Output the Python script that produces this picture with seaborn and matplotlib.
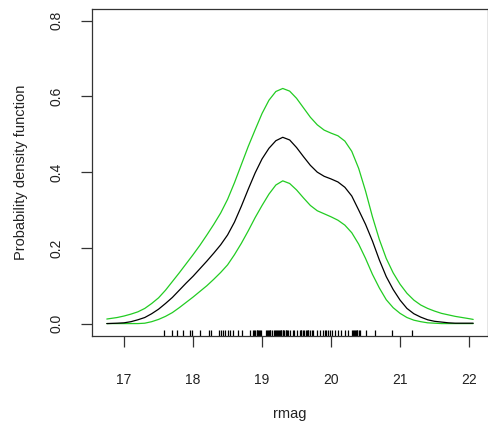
import matplotlib
matplotlib.use("Agg")
import matplotlib.pyplot as plt
import seaborn as sns
import pandas as pd

rmag_grid = [16.75, 16.9,
             17.0, 17.1, 17.2, 17.3, 17.4, 17.5, 17.6, 17.7, 17.8, 17.9,
             18.0, 18.1, 18.2, 18.3, 18.4, 18.5, 18.6, 18.7, 18.8, 18.9,
             19.0, 19.1, 19.2, 19.3, 19.4, 19.5, 19.6, 19.7, 19.8, 19.9,
             20.0, 20.1, 20.2, 20.3, 20.4, 20.5, 20.6, 20.7, 20.8, 20.9,
             21.0, 21.1, 21.2, 21.3, 21.4, 21.5, 21.6, 21.7, 21.8, 21.9,
             22.0, 22.06]

density = [0.000, 0.001,
           0.002, 0.005, 0.010, 0.016, 0.026, 0.038, 0.053, 0.069, 0.088, 0.107,
           0.125, 0.145, 0.165, 0.186, 0.208, 0.234, 0.268, 0.310, 0.355, 0.398,
           0.435, 0.463, 0.483, 0.492, 0.485, 0.465, 0.441, 0.418, 0.400, 0.389,
           0.382, 0.374, 0.360, 0.337, 0.300, 0.262, 0.218, 0.168, 0.124, 0.090,
           0.062, 0.040, 0.026, 0.017, 0.010, 0.006, 0.004, 0.002, 0.001, 0.001,
           0.001, 0.001]

upper_band = [0.012, 0.016,
              0.020, 0.025, 0.031, 0.040, 0.053, 0.068, 0.088, 0.111, 0.134, 0.158,
              0.182, 0.207, 0.234, 0.262, 0.292, 0.328, 0.372, 0.420, 0.468, 0.512,
              0.555, 0.590, 0.613, 0.621, 0.614, 0.595, 0.570, 0.545, 0.525, 0.511,
              0.503, 0.496, 0.482, 0.455, 0.410, 0.350, 0.282, 0.222, 0.172, 0.134,
              0.104, 0.080, 0.062, 0.049, 0.040, 0.033, 0.027, 0.023, 0.019, 0.016,
              0.013, 0.011]

lower_band = [0.000, 0.000,
              0.000, 0.000, 0.000, 0.001, 0.005, 0.011, 0.019, 0.029, 0.042, 0.056,
              0.070, 0.085, 0.100, 0.117, 0.135, 0.155, 0.182, 0.212, 0.245, 0.280,
              0.312, 0.342, 0.366, 0.377, 0.370, 0.353, 0.332, 0.312, 0.298, 0.290,
              0.282, 0.273, 0.260, 0.240, 0.210, 0.172, 0.130, 0.094, 0.063, 0.042,
              0.027, 0.016, 0.009, 0.005, 0.002, 0.001, 0.000, 0.000, 0.000, 0.000,
              0.000, 0.000]

rug_values = [17.58, 17.69, 17.77, 17.86, 17.96, 17.99, 18.10, 18.23, 18.26, 18.38,
              18.40, 18.43, 18.47, 18.50, 18.54, 18.58, 18.65, 18.71, 18.82, 18.87,
              18.89, 18.90, 18.92, 18.93, 18.94, 18.96, 18.97, 18.98, 19.06, 19.07,
              19.08, 19.10, 19.11, 19.12, 19.14, 19.18, 19.19, 19.20, 19.22, 19.23,
              19.24, 19.26, 19.27, 19.28, 19.30, 19.31, 19.32, 19.34, 19.35, 19.36,
              19.38, 19.40, 19.45, 19.47, 19.50, 19.55, 19.56, 19.57, 19.59, 19.61,
              19.63, 19.65, 19.66, 19.67, 19.69, 19.72, 19.74, 19.79, 19.84, 19.88,
              19.91, 19.93, 19.96, 19.98, 20.01, 20.05, 20.10, 20.15, 20.20, 20.25,
              20.30, 20.32, 20.33, 20.34, 20.36, 20.37, 20.38, 20.40, 20.42, 20.51,
              20.63, 20.89, 21.18]

x_ticks = [17, 18, 19, 20, 21, 22]
y_ticks = [0.0, 0.2, 0.4, 0.6, 0.8]
y_tick_labels = ["0.0", "0.2", "0.4", "0.6", "0.8"]

sns.set_style("white")
plt.rcParams["font.family"] = ["Liberation Sans", "DejaVu Sans"]

fig = plt.figure(figsize=(4.89, 4.29), dpi=100)
ax = fig.add_axes([0.1888, 0.2175, 0.8085, 0.7625])

df = pd.DataFrame({"rmag": rmag_grid, "density": density,
                   "upper": upper_band, "lower": lower_band})

green = "#22cc22"
sns.lineplot(data=df, x="rmag", y="upper", ax=ax, color=green, linewidth=0.9)
sns.lineplot(data=df, x="rmag", y="lower", ax=ax, color=green, linewidth=0.9)
sns.lineplot(data=df, x="rmag", y="density", ax=ax, color="black", linewidth=0.9)
sns.rugplot(x=rug_values, ax=ax, height=0.016, color="black", linewidth=0.9)

ax.set_xlim(16.54, 22.27)
ax.set_ylim(-0.032, 0.832)
ax.set_xticks(x_ticks)
ax.set_xticklabels([str(t) for t in x_ticks])
ax.set_yticks(y_ticks)
ax.set_yticklabels(y_tick_labels, rotation=90, va="center")

for s in ax.spines.values():
    s.set_visible(True)
    s.set_color("#333333")
    s.set_linewidth(0.9)

ax.tick_params(axis="both", direction="out", length=8, width=0.9,
               bottom=True, left=True,
               color="#333333", labelsize=10, labelcolor="#222222")
ax.tick_params(axis="x", pad=19)
ax.tick_params(axis="y", pad=13)

ax.set_xlabel("rmag", fontsize=10.5, color="#222222", labelpad=14)
ax.set_ylabel("Probability density function", fontsize=10.5, color="#222222", labelpad=15)

fig.savefig("out.png", dpi=100)
